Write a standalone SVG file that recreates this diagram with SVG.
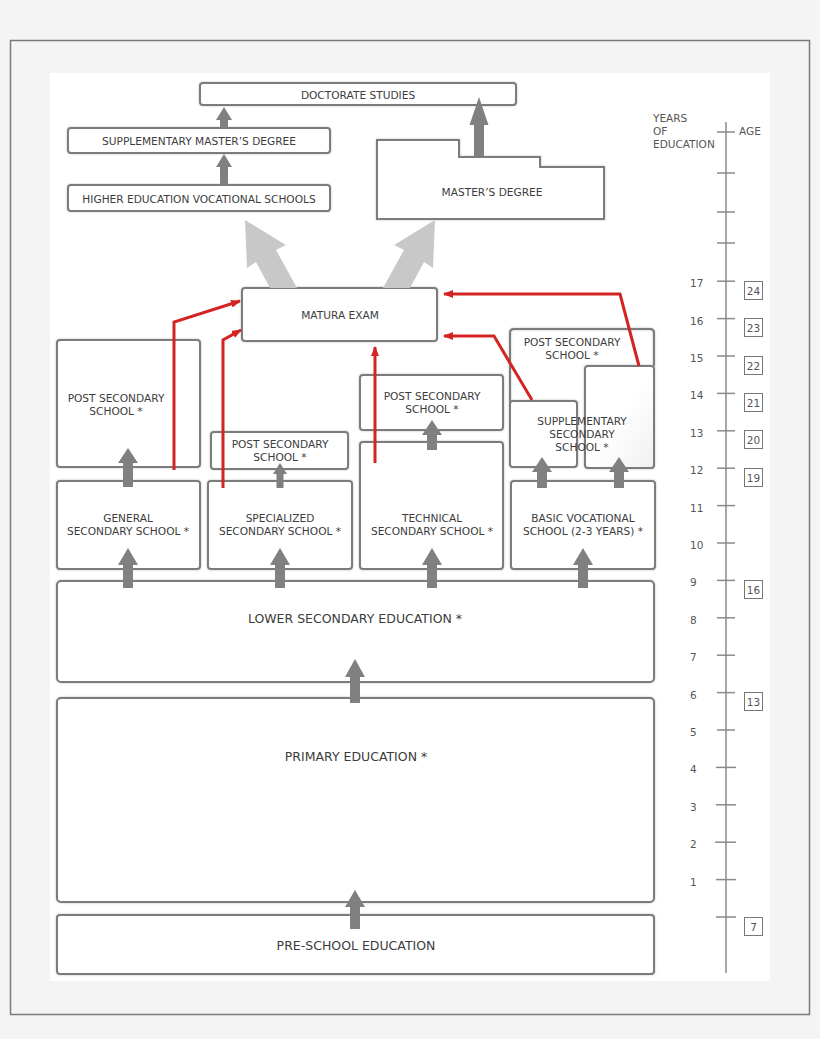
<svg xmlns="http://www.w3.org/2000/svg" width="820" height="1039" viewBox="0 0 820 1039">
<defs>
<style>
.box{fill:#fff;stroke:#7b7b7b;stroke-width:2;filter:url(#sh)}
.open{fill:none}
.t{font-family:"DejaVu Sans",Verdana,sans-serif;font-size:10.6px;fill:#3c3c3c;text-anchor:middle}
.tl{font-family:"DejaVu Sans",Verdana,sans-serif;font-size:12.5px;fill:#3c3c3c;text-anchor:middle}
.s{font-family:"DejaVu Sans",Verdana,sans-serif;font-size:10.5px;fill:#555}
.ga{fill:#808080}
.big{fill:#c8c8c8}
.red{fill:none;stroke:#d42323;stroke-width:3;stroke-linejoin:miter}
.tick{stroke:#8a8a8a;stroke-width:1.5}
.age{fill:#fff;stroke:#777;stroke-width:1}
</style>
<filter id="sh" x="-5%" y="-5%" width="110%" height="110%">
<feDropShadow dx="0" dy="0" stdDeviation="0.8" flood-color="#999" flood-opacity="0.6"/>
</filter>
<linearGradient id="gr" x1="0" y1="0" x2="1" y2="1">
<stop offset="0.5" stop-color="#ffffff"/>
<stop offset="1" stop-color="#f0f0f0"/>
</linearGradient>
<marker id="ah" markerUnits="userSpaceOnUse" markerWidth="10" markerHeight="8" refX="9" refY="4" orient="auto">
<path d="M0,0 L10,4 L0,8 Z" fill="#d42323"/>
</marker>
</defs>

<rect x="0" y="0" width="820" height="1039" fill="#f4f4f4"/>
<rect x="10.5" y="40.5" width="799" height="974" fill="none" stroke="#7a7a7a" stroke-width="1.5"/>
<rect x="50" y="73" width="720" height="908" fill="#fff"/>

<g id="doctorate"><rect class="box" x="200" y="83" width="316" height="22" rx="3"/><text class="t" x="358" y="99">DOCTORATE STUDIES</text></g>
<g id="supp-master"><rect class="box" x="68" y="128" width="262" height="25" rx="3"/><text class="t" x="199" y="145">SUPPLEMENTARY MASTER’S DEGREE</text></g>
<g id="higher-voc"><rect class="box" x="68" y="185" width="262" height="26" rx="3"/><text class="t" x="199" y="203">HIGHER EDUCATION VOCATIONAL SCHOOLS</text></g>
<g id="master"><path class="box" d="M377,140 H459 V157 H540 V167 H604 V219 H377 Z"/><text class="t" x="492" y="196">MASTER’S DEGREE</text></g>
<g id="matura"><rect class="box" x="242" y="288" width="195" height="53" rx="3"/><text class="t" x="340" y="319">MATURA EXAM</text></g>

<g id="post-general"><rect class="box" x="57" y="340" width="143" height="127" rx="3"/><text class="t" x="116" y="402">POST SECONDARY</text><text class="t" x="116" y="415">SCHOOL *</text></g>
<g id="general"><rect class="box" x="57" y="481" width="143" height="88" rx="3"/><text class="t" x="128" y="522">GENERAL</text><text class="t" x="128" y="535">SECONDARY SCHOOL *</text></g>
<g id="post-specialized"><rect class="box" x="211" y="432" width="137" height="37" rx="3"/><text class="t" x="280" y="448">POST SECONDARY</text><text class="t" x="280" y="461">SCHOOL *</text></g>
<g id="specialized"><rect class="box" x="208" y="481" width="144" height="88" rx="3"/><text class="t" x="280" y="522">SPECIALIZED</text><text class="t" x="280" y="535">SECONDARY SCHOOL *</text></g>
<g id="post-technical"><rect class="box" x="360" y="375" width="143" height="55" rx="3"/><text class="t" x="432" y="400">POST SECONDARY</text><text class="t" x="432" y="413">SCHOOL *</text></g>
<g id="technical"><rect class="box" x="360" y="442" width="143" height="127" rx="3"/><text class="t" x="432" y="522">TECHNICAL</text><text class="t" x="432" y="535">SECONDARY SCHOOL *</text></g>
<g id="post-vocational"><path class="box open" style="fill:none" d="M510,402 V333 Q510,329 514,329 H650 Q654,329 654,333 V366"/><text class="t" x="572" y="346">POST SECONDARY</text><text class="t" x="572" y="359">SCHOOL *</text></g>
<g id="supplementary"><rect class="box" x="510" y="401" width="67" height="66" rx="3"/><rect class="box" x="585" y="366" width="69" height="102" rx="3" style="fill:url(#gr)"/><text class="t" x="582" y="425">SUPPLEMENTARY</text><text class="t" x="582" y="438">SECONDARY</text><text class="t" x="582" y="451">SCHOOL *</text></g>
<g id="basic-vocational"><rect class="box" x="511" y="481" width="144" height="88" rx="3"/><text class="t" x="583" y="522">BASIC VOCATIONAL</text><text class="t" x="583" y="535">SCHOOL (2-3 YEARS) *</text></g>

<g id="lower-secondary"><rect class="box" x="57" y="581" width="597" height="101" rx="4"/><text class="tl" x="355" y="623">LOWER SECONDARY EDUCATION *</text></g>
<g id="primary"><rect class="box" x="57" y="698" width="597" height="204" rx="4"/><text class="tl" x="356" y="761">PRIMARY EDUCATION *</text></g>
<g id="pre-school"><rect class="box" x="57" y="915" width="597" height="59" rx="3"/><text class="tl" x="356" y="950">PRE-SCHOOL EDUCATION</text></g>

<g id="connectors">
<polygon class="big" points="245,220 286,245 276,250 297,288 270,288 256,262 247,268"/>
<polygon class="big" points="435,220 394,245 404,250 383,288 410,288 424,262 433,268"/>
<polygon class="ga" points="224,107 232,120 228,120 228,128 220,128 220,120 216,120"/>
<polygon class="ga" points="224,154 232,167 228,167 228,186 220,186 220,167 216,167"/>
<polygon class="ga" points="479,97 488.5,125 484,125 484,156 474,156 474,125 469.5,125"/>
<polygon class="ga" points="128,448 138,463 133,463 133,487 123,487 123,463 118,463"/>
<polygon class="ga" points="280,463 287,474 283.5,474 283.5,488 276.5,488 276.5,474 273,474"/>
<polygon class="ga" points="432,420 442,435 437,435 437,450 427,450 427,435 422,435"/>
<polygon class="ga" points="542,457 552,472 547,472 547,488 537,488 537,472 532,472"/>
<polygon class="ga" points="619,457 629,472 624,472 624,488 614,488 614,472 609,472"/>
<polygon class="ga" points="128,548 138,565 133,565 133,588 123,588 123,565 118,565"/>
<polygon class="ga" points="280,548 290,565 285,565 285,588 275,588 275,565 270,565"/>
<polygon class="ga" points="432,548 442,565 437,565 437,588 427,588 427,565 422,565"/>
<polygon class="ga" points="583,548 593,565 588,565 588,588 578,588 578,565 573,565"/>
<polygon class="ga" points="355,659 365,677 360,677 360,703 350,703 350,677 345,677"/>
<polygon class="ga" points="355,890 365,907 360,907 360,929 350,929 350,907 345,907"/>
<path class="red" d="M174,470 V322 L240,301" marker-end="url(#ah)"/>
<path class="red" d="M223,488 V340 L241,330" marker-end="url(#ah)"/>
<path class="red" d="M375,463 V347" marker-end="url(#ah)"/>
<path class="red" d="M532,400 L494,336 H444" marker-end="url(#ah)"/>
<path class="red" d="M639,366 L620,294 H444" marker-end="url(#ah)"/>
</g>

<g id="scale">
<text class="s" x="653" y="122">YEARS</text>
<text class="s" x="653" y="135">OF</text>
<text class="s" x="653" y="148">EDUCATION</text>
<text class="s" x="739" y="135">AGE</text>
<line class="tick" x1="726" y1="122" x2="726" y2="973"/>
<line class="tick" x1="717" y1="132" x2="735" y2="132"/>
<line class="tick" x1="717" y1="173" x2="735" y2="173"/>
<line class="tick" x1="717" y1="212" x2="735" y2="212"/>
<line class="tick" x1="717" y1="243" x2="735" y2="243"/>
<line class="tick" x1="717" y1="281.2" x2="735" y2="281.2"/>
<line class="tick" x1="717" y1="318.6" x2="735" y2="318.6"/>
<line class="tick" x1="717" y1="356" x2="735" y2="356"/>
<line class="tick" x1="717" y1="393.4" x2="735" y2="393.4"/>
<line class="tick" x1="717" y1="430.8" x2="735" y2="430.8"/>
<line class="tick" x1="717" y1="468.2" x2="735" y2="468.2"/>
<line class="tick" x1="717" y1="505.6" x2="735" y2="505.6"/>
<line class="tick" x1="717" y1="543" x2="735" y2="543"/>
<line class="tick" x1="717" y1="580.4" x2="735" y2="580.4"/>
<line class="tick" x1="717" y1="617.8" x2="735" y2="617.8"/>
<line class="tick" x1="717" y1="655.2" x2="735" y2="655.2"/>
<line class="tick" x1="717" y1="692.6" x2="735" y2="692.6"/>
<line class="tick" x1="717" y1="730" x2="735" y2="730"/>
<line class="tick" x1="716" y1="767.4" x2="736" y2="767.4"/>
<line class="tick" x1="716" y1="804.8" x2="736" y2="804.8"/>
<line class="tick" x1="715" y1="842.2" x2="736" y2="842.2"/>
<line class="tick" x1="716" y1="879.6" x2="736" y2="879.6"/>
<line class="tick" x1="716" y1="917" x2="736" y2="917"/>
<text class="s" x="690" y="287">17</text>
<text class="s" x="690" y="325">16</text>
<text class="s" x="690" y="362">15</text>
<text class="s" x="690" y="399">14</text>
<text class="s" x="690" y="437">13</text>
<text class="s" x="690" y="474">12</text>
<text class="s" x="690" y="512">11</text>
<text class="s" x="690" y="549">10</text>
<text class="s" x="690" y="586">9</text>
<text class="s" x="690" y="624">8</text>
<text class="s" x="690" y="661">7</text>
<text class="s" x="690" y="699">6</text>
<text class="s" x="690" y="736">5</text>
<text class="s" x="690" y="773">4</text>
<text class="s" x="690" y="811">3</text>
<text class="s" x="690" y="848">2</text>
<text class="s" x="690" y="886">1</text>
<rect class="age" x="744.5" y="281.5" width="18" height="18"/><text class="s" x="753.5" y="295" text-anchor="middle">24</text>
<rect class="age" x="744.5" y="318.5" width="18" height="18"/><text class="s" x="753.5" y="332" text-anchor="middle">23</text>
<rect class="age" x="744.5" y="356.5" width="18" height="18"/><text class="s" x="753.5" y="370" text-anchor="middle">22</text>
<rect class="age" x="744.5" y="393.5" width="18" height="18"/><text class="s" x="753.5" y="407" text-anchor="middle">21</text>
<rect class="age" x="744.5" y="430.5" width="18" height="18"/><text class="s" x="753.5" y="444" text-anchor="middle">20</text>
<rect class="age" x="744.5" y="468.5" width="18" height="18"/><text class="s" x="753.5" y="482" text-anchor="middle">19</text>
<rect class="age" x="744.5" y="580.5" width="18" height="18"/><text class="s" x="753.5" y="594" text-anchor="middle">16</text>
<rect class="age" x="744.5" y="692.5" width="18" height="18"/><text class="s" x="753.5" y="706" text-anchor="middle">13</text>
<rect class="age" x="744.5" y="917.5" width="18" height="18"/><text class="s" x="753.5" y="931" text-anchor="middle">7</text>
</g>
</svg>
